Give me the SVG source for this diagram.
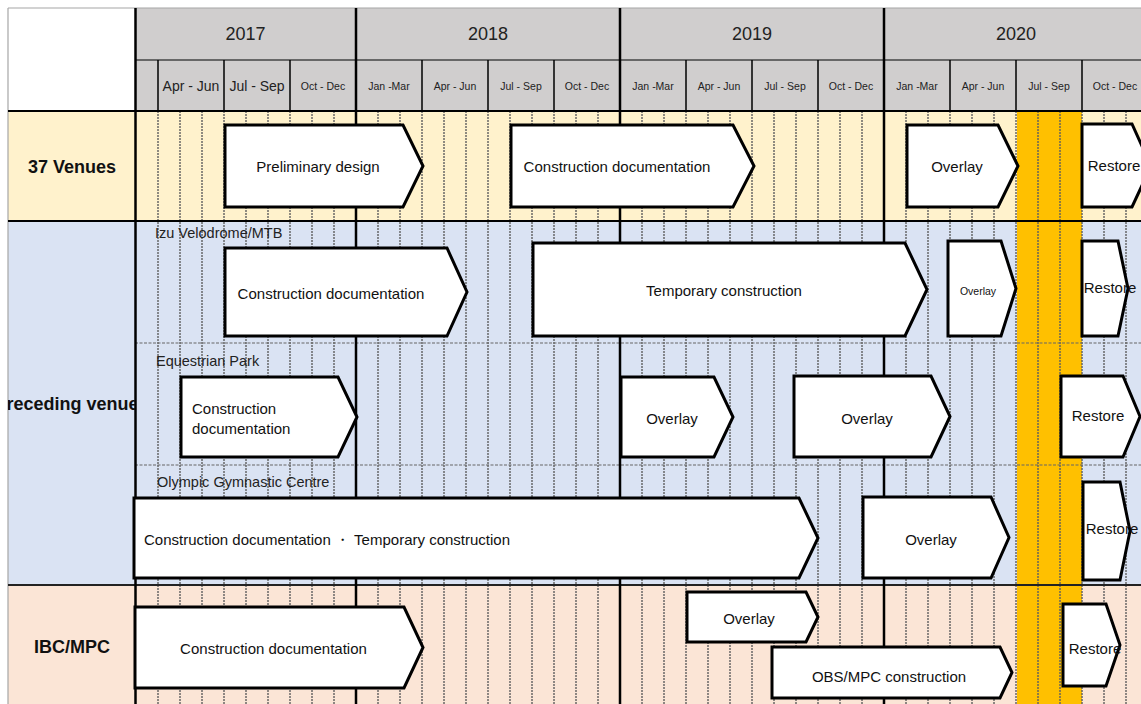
<svg xmlns="http://www.w3.org/2000/svg" width="1141" height="704" viewBox="0 0 1141 704">
  <style>
    .txt { font-family: "Liberation Sans", Arial, sans-serif; fill: #111; dominant-baseline: central; }
    .box { font-size: 15px; }
    .small { font-size: 10.5px; }
    .yr { font-size: 18px; fill: #222; text-anchor: middle; }
    .q { font-size: 10.5px; fill: #222; text-anchor: middle; }
    .qb { font-size: 14px; fill: #222; text-anchor: middle; }
    .lbl { font-size: 18px; font-weight: bold; text-anchor: middle; }
    .sub { font-size: 14.5px; fill: #222; }
    .mid { text-anchor: middle; }
    .arrow { fill: #fff; stroke: #000; stroke-width: 3; stroke-linejoin: miter; }
    .month { stroke: #5f5f5f; stroke-width: 1.4; stroke-dasharray: 2 1; }
    .divider { stroke: #666; stroke-width: 1.2; stroke-dasharray: 3 1.5; }
    .yearline { stroke: #000; stroke-width: 2.5; }
    .qline { stroke: #000; stroke-width: 1.5; }
  </style>
  <defs>
    <clipPath id="leftcol">
      <rect x="8" y="221" width="127" height="364"/>
    </clipPath>
  </defs>

  <!-- page and row bands -->
  <rect x="0" y="0" width="1141" height="704" fill="#fff"/>
  <rect x="8" y="111" width="1133" height="110" fill="#FFF2CC"/>
  <rect x="8" y="221" width="1133" height="364" fill="#DAE3F3"/>
  <rect x="8" y="585" width="1133" height="119" fill="#FBE5D6"/>

  <!-- header band -->
  <rect x="135" y="8" width="1006" height="103" fill="#D0CECE"/>

  <!-- Games period (Jul - Sep 2020) -->
  <rect x="1017" y="111" width="65" height="593" fill="#FFC000"/>

  <!-- monthly grid -->
  <g id="month-grid">
    <line class="month" x1="158" y1="111" x2="158" y2="704"/>
    <line class="month" x1="180" y1="111" x2="180" y2="704"/>
    <line class="month" x1="202" y1="111" x2="202" y2="704"/>
    <line class="month" x1="224" y1="111" x2="224" y2="704"/>
    <line class="month" x1="246" y1="111" x2="246" y2="704"/>
    <line class="month" x1="268" y1="111" x2="268" y2="704"/>
    <line class="month" x1="290" y1="111" x2="290" y2="704"/>
    <line class="month" x1="312" y1="111" x2="312" y2="704"/>
    <line class="month" x1="334" y1="111" x2="334" y2="704"/>
    <line class="month" x1="378" y1="111" x2="378" y2="704"/>
    <line class="month" x1="400" y1="111" x2="400" y2="704"/>
    <line class="month" x1="422" y1="111" x2="422" y2="704"/>
    <line class="month" x1="444" y1="111" x2="444" y2="704"/>
    <line class="month" x1="466" y1="111" x2="466" y2="704"/>
    <line class="month" x1="488" y1="111" x2="488" y2="704"/>
    <line class="month" x1="510" y1="111" x2="510" y2="704"/>
    <line class="month" x1="532" y1="111" x2="532" y2="704"/>
    <line class="month" x1="554" y1="111" x2="554" y2="704"/>
    <line class="month" x1="576" y1="111" x2="576" y2="704"/>
    <line class="month" x1="598" y1="111" x2="598" y2="704"/>
    <line class="month" x1="642" y1="111" x2="642" y2="704"/>
    <line class="month" x1="664" y1="111" x2="664" y2="704"/>
    <line class="month" x1="686" y1="111" x2="686" y2="704"/>
    <line class="month" x1="708" y1="111" x2="708" y2="704"/>
    <line class="month" x1="730" y1="111" x2="730" y2="704"/>
    <line class="month" x1="752" y1="111" x2="752" y2="704"/>
    <line class="month" x1="774" y1="111" x2="774" y2="704"/>
    <line class="month" x1="796" y1="111" x2="796" y2="704"/>
    <line class="month" x1="818" y1="111" x2="818" y2="704"/>
    <line class="month" x1="840" y1="111" x2="840" y2="704"/>
    <line class="month" x1="862" y1="111" x2="862" y2="704"/>
    <line class="month" x1="906" y1="111" x2="906" y2="704"/>
    <line class="month" x1="928" y1="111" x2="928" y2="704"/>
    <line class="month" x1="950" y1="111" x2="950" y2="704"/>
    <line class="month" x1="972" y1="111" x2="972" y2="704"/>
    <line class="month" x1="994" y1="111" x2="994" y2="704"/>
    <line class="month" x1="1016" y1="111" x2="1016" y2="704"/>
    <line class="month" x1="1038" y1="111" x2="1038" y2="704"/>
    <line class="month" x1="1060" y1="111" x2="1060" y2="704"/>
    <line class="month" x1="1082" y1="111" x2="1082" y2="704"/>
    <line class="month" x1="1104" y1="111" x2="1104" y2="704"/>
    <line class="month" x1="1126" y1="111" x2="1126" y2="704"/>
  </g>

  <!-- venue sub-row dividers -->
  <line class="divider" x1="135" y1="343" x2="1141" y2="343"/>
  <line class="divider" x1="135" y1="465" x2="1141" y2="465"/>

  <!-- frame and table rules -->
  <g id="rules">
    <line x1="8" y1="8" x2="1141" y2="8" stroke="#a6a6a6" stroke-width="1.2"/>
    <line x1="8" y1="8" x2="8" y2="704" stroke="#a6a6a6" stroke-width="1.2"/>
    <line x1="135" y1="60" x2="1141" y2="60" stroke="#444" stroke-width="1.5"/>
    <line x1="8" y1="111" x2="1141" y2="111" stroke="#000" stroke-width="2"/>
    <line x1="8" y1="221" x2="1141" y2="221" stroke="#000" stroke-width="2"/>
    <line x1="8" y1="585" x2="1141" y2="585" stroke="#222" stroke-width="2"/>
    <line class="qline" x1="158" y1="60" x2="158" y2="111"/>
    <line class="qline" x1="224" y1="60" x2="224" y2="111"/>
    <line class="qline" x1="290" y1="60" x2="290" y2="111"/>
    <line class="qline" x1="422" y1="60" x2="422" y2="111"/>
    <line class="qline" x1="488" y1="60" x2="488" y2="111"/>
    <line class="qline" x1="554" y1="60" x2="554" y2="111"/>
    <line class="qline" x1="686" y1="60" x2="686" y2="111"/>
    <line class="qline" x1="752" y1="60" x2="752" y2="111"/>
    <line class="qline" x1="818" y1="60" x2="818" y2="111"/>
    <line class="qline" x1="950" y1="60" x2="950" y2="111"/>
    <line class="qline" x1="1016" y1="60" x2="1016" y2="111"/>
    <line class="qline" x1="1082" y1="60" x2="1082" y2="111"/>
    <line class="yearline" x1="135.5" y1="8" x2="135.5" y2="704"/>
    <line class="yearline" x1="356" y1="8" x2="356" y2="704"/>
    <line class="yearline" x1="620" y1="8" x2="620" y2="704"/>
    <line class="yearline" x1="884" y1="8" x2="884" y2="704"/>
  </g>

  <!-- timeline header -->
  <g id="header">
    <text class="txt yr" x="245.5" y="34">2017</text>
    <text class="txt yr" x="488" y="34">2018</text>
    <text class="txt yr" x="752" y="34">2019</text>
    <text class="txt yr" x="1016" y="34">2020</text>
    <text class="txt qb" x="191" y="86">Apr - Jun</text>
    <text class="txt qb" x="257" y="86">Jul - Sep</text>
    <text class="txt q" x="323" y="86">Oct - Dec</text>
    <text class="txt q" x="389" y="86">Jan -Mar</text>
    <text class="txt q" x="455" y="86">Apr - Jun</text>
    <text class="txt q" x="521" y="86">Jul - Sep</text>
    <text class="txt q" x="587" y="86">Oct - Dec</text>
    <text class="txt q" x="653" y="86">Jan -Mar</text>
    <text class="txt q" x="719" y="86">Apr - Jun</text>
    <text class="txt q" x="785" y="86">Jul - Sep</text>
    <text class="txt q" x="851" y="86">Oct - Dec</text>
    <text class="txt q" x="917" y="86">Jan -Mar</text>
    <text class="txt q" x="983" y="86">Apr - Jun</text>
    <text class="txt q" x="1049" y="86">Jul - Sep</text>
    <text class="txt q" x="1115" y="86">Oct - Dec</text>
  </g>

  <!-- row headings -->
  <g id="row-labels">
    <text class="txt lbl" x="72" y="167">37 Venues</text>
    <text class="txt lbl" x="71.5" y="404" clip-path="url(#leftcol)">Preceding venues</text>
    <text class="txt lbl" x="72" y="647">IBC/MPC</text>
    <text class="txt sub" x="155" y="233">Izu Velodrome/MTB</text>
    <text class="txt sub" x="156" y="361">Equestrian Park</text>
    <text class="txt sub" x="157" y="482">Olympic Gymnastic Centre</text>
  </g>

  <!-- 37 Venues -->
  <g id="v37-preliminary-design">
    <polygon class="arrow" points="225,125 403,125 423,166 403,207 225,207"/>
    <text class="txt box mid" x="318" y="166">Preliminary design</text>
  </g>
  <g id="v37-construction-documentation">
    <polygon class="arrow" points="511,125 733,125 754,166 733,207 511,207"/>
    <text class="txt box mid" x="617" y="166">Construction documentation</text>
  </g>
  <g id="v37-overlay">
    <polygon class="arrow" points="907,125 998,125 1018,166 998,207 907,207"/>
    <text class="txt box mid" x="957" y="166">Overlay</text>
  </g>
  <g id="v37-restore">
    <polygon class="arrow" points="1082,124 1132,124 1151,166 1132,207 1082,207"/>
    <text class="txt box mid" x="1114" y="165">Restore</text>
  </g>

  <!-- Izu Velodrome/MTB -->
  <g id="izu-construction-documentation">
    <polygon class="arrow" points="225,248 447,248 467,292 447,336 225,336"/>
    <text class="txt box mid" x="331" y="293">Construction documentation</text>
  </g>
  <g id="izu-temporary-construction">
    <polygon class="arrow" points="533,243 905,243 927,289.5 905,336 533,336"/>
    <text class="txt box mid" x="724" y="290">Temporary construction</text>
  </g>
  <g id="izu-overlay">
    <polygon class="arrow" points="948,241 1001,241 1016,288.5 1001,336 948,336"/>
    <text class="txt small mid" x="978" y="291">Overlay</text>
  </g>
  <g id="izu-restore">
    <polygon class="arrow" points="1082,241 1118,241 1128,288.5 1118,336 1082,336"/>
    <text class="txt box mid" x="1110" y="287">Restore</text>
  </g>

  <!-- Equestrian Park -->
  <g id="eq-construction-documentation">
    <polygon class="arrow" points="181,377 338,377 357,417 338,457 181,457"/>
    <text class="txt box" x="192" y="408">Construction</text>
    <text class="txt box" x="192" y="428">documentation</text>
  </g>
  <g id="eq-overlay-1">
    <polygon class="arrow" points="621,377 714,377 733,417 714,457 621,457"/>
    <text class="txt box mid" x="672" y="418">Overlay</text>
  </g>
  <g id="eq-overlay-2">
    <polygon class="arrow" points="794,376 931,376 950,416.5 931,457 794,457"/>
    <text class="txt box mid" x="867" y="418">Overlay</text>
  </g>
  <g id="eq-restore">
    <polygon class="arrow" points="1061,376 1123,376 1140,416.5 1123,457 1061,457"/>
    <text class="txt box mid" x="1098" y="415">Restore</text>
  </g>

  <!-- Olympic Gymnastic Centre -->
  <g id="ogc-construction-temporary">
    <polygon class="arrow" points="134,498 799,498 818,538 799,578 134,578"/>
    <text class="txt box" x="144" y="539" font-family="'Liberation Sans', 'Noto Sans CJK JP', sans-serif">Construction documentation ・ Temporary construction</text>
  </g>
  <g id="ogc-overlay">
    <polygon class="arrow" points="863,497 991,497 1009,537.5 991,578 863,578"/>
    <text class="txt box mid" x="931" y="539">Overlay</text>
  </g>
  <g id="ogc-restore">
    <polygon class="arrow" points="1083,482 1120,482 1130,531 1120,580 1083,580"/>
    <text class="txt box mid" x="1112" y="528">Restore</text>
  </g>

  <!-- IBC/MPC -->
  <g id="ibc-construction-documentation">
    <polygon class="arrow" points="135,607 404,607 423,647.5 404,688 135,688"/>
    <text class="txt box mid" x="273.5" y="648">Construction documentation</text>
  </g>
  <g id="ibc-overlay">
    <polygon class="arrow" points="687,592 806,592 818,617 806,642 687,642"/>
    <text class="txt box mid" x="749" y="618">Overlay</text>
  </g>
  <g id="ibc-obs-mpc-construction">
    <polygon class="arrow" points="772,647 1000,647 1012,672.5 1000,698 772,698"/>
    <text class="txt box mid" x="889" y="676">OBS/MPC construction</text>
  </g>
  <g id="ibc-restore">
    <polygon class="arrow" points="1063,604 1106,604 1120,645 1106,686 1063,686"/>
    <text class="txt box mid" x="1095" y="648">Restore</text>
  </g>
</svg>
